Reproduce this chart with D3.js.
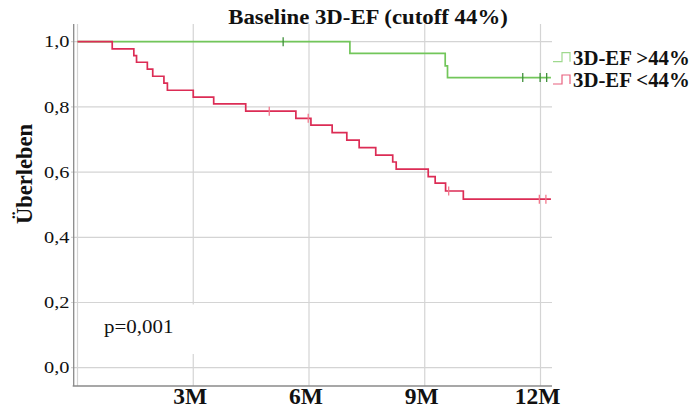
<!DOCTYPE html>
<html>
<head>
<meta charset="utf-8">
<script src="https://cdn.jsdelivr.net/npm/d3@7"></script>
<style>
  body { margin: 0; background: #fff; }
  text { font-family: "Liberation Serif", "Times New Roman", serif; fill: #111; }
</style>
</head>
<body>
<svg id="chart" width="694" height="410"></svg>
<script>
// survival curves: time in months, survival after each step
const highTimes  = [7.06, 9.53, 9.59];
const highSurv   = [0.964, 0.926, 0.890];
const highCensor = [5.33, 11.54, 11.99, 12.16];

const lowTimes  = [0.90, 1.46, 1.53, 1.81, 1.95, 2.24, 2.33, 3.00, 3.53, 4.36, 5.66,
                   6.05, 6.60, 6.98, 7.30, 7.73, 8.17, 8.26, 9.09, 9.27, 9.54, 10.00];
const lowSurv   = [0.978, 0.957, 0.937, 0.916, 0.894, 0.873, 0.851, 0.830, 0.809, 0.787, 0.765,
                   0.744, 0.721, 0.698, 0.675, 0.652, 0.631, 0.609, 0.586, 0.566, 0.542, 0.517];
const lowCensor = [4.97, 5.98, 9.62, 11.97, 12.14];

const endTime = 12.27;
const xTicks = [3, 6, 9, 12];
const xTickLabels = ["3M", "6M", "9M", "12M"];
const yTicks = [0, 0.2, 0.4, 0.6, 0.8, 1.0];
const yTickLabels = ["0,0", "0,2", "0,4", "0,6", "0,8", "1,0"];
const seriesNames = ["3D-EF >44%", "3D-EF <44%"];
const pValue = "p=0,001";

const svg = d3.select("#chart");
svg.append("rect").attr("width", 694).attr("height", 410).attr("fill", "#fff");

const x = d3.scaleLinear().domain([0, 12]).range([77.5, 540.5]);
const y = d3.scaleLinear().domain([0, 1]).range([367.7, 41.7]);

const plotTop = 24, plotBottom = 386, plotLeft = 73.7, plotRight = 552;
const gridColor = "#d4d4d4";

function label(txt, px, py, size, sx, anchor, weight) {
  return svg.append("text")
    .attr("transform", `translate(${px},${py}) scale(${sx},1)`)
    .attr("text-anchor", anchor)
    .style("font-size", size + "px")
    .style("font-weight", weight)
    .text(txt);
}

// grid
svg.selectAll(".hgrid").data(yTicks).enter().append("line")
  .attr("x1", 71).attr("x2", plotRight)
  .attr("y1", d => y(d)).attr("y2", d => y(d))
  .attr("stroke", gridColor).attr("stroke-width", 1.2);
svg.selectAll(".vgrid").data([0].concat(xTicks)).enter().append("line")
  .attr("x1", d => x(d)).attr("x2", d => x(d))
  .attr("y1", plotTop).attr("y2", plotBottom)
  .attr("stroke", gridColor).attr("stroke-width", 1.2);

// white box behind p value
svg.append("rect").attr("x", 90).attr("y", 304.5).attr("width", 112).attr("height", 49.5).attr("fill", "#fff");

// axes
svg.append("line").attr("x1", plotLeft).attr("x2", plotLeft).attr("y1", plotTop).attr("y2", plotBottom)
  .attr("stroke", "#8a8a8a").attr("stroke-width", 1.3);
svg.append("line").attr("x1", plotLeft - 1).attr("x2", plotRight).attr("y1", plotBottom).attr("y2", plotBottom)
  .attr("stroke", "#8a8a8a").attr("stroke-width", 1.3);

// curves
const line = d3.line().x(d => x(d[0])).y(d => y(d[1])).curve(d3.curveStepAfter);
function steps(times, surv) {
  const pts = [[0, 1]];
  times.forEach((t, i) => pts.push([t, surv[i]]));
  pts.push([endTime, surv[surv.length - 1]]);
  return pts;
}
function survAt(times, surv, t) {
  let s = 1;
  times.forEach((tt, i) => { if (tt <= t) s = surv[i]; });
  return s;
}

const series = [
  {times: highTimes, surv: highSurv, censor: highCensor, color: "#72c65a", mark: "#3f8f3a", legend: "#9fd98e"},
  {times: lowTimes, surv: lowSurv, censor: lowCensor, color: "#dc2c55", mark: "#f2788c", legend: "#e8607e"}
];

series.forEach(s => {
  svg.append("path").datum(steps(s.times, s.surv))
    .attr("d", line).attr("fill", "none")
    .attr("stroke", s.color).attr("stroke-width", 1.7);
  svg.selectAll(null).data(s.censor).enter().append("line")
    .attr("x1", d => x(d)).attr("x2", d => x(d))
    .attr("y1", d => y(survAt(s.times, s.surv, d)) - 4.5)
    .attr("y2", d => y(survAt(s.times, s.surv, d)) + 4.5)
    .attr("stroke", s.mark).attr("stroke-width", 1.3);
});

// legend
series.forEach((s, i) => {
  const top = 52.7 + i * 22.3;
  svg.append("path")
    .attr("d", `M553,${top + 9}H562V${top}H570V${top + 9}`)
    .attr("fill", "none").attr("stroke", s.legend).attr("stroke-width", 1.2);
  label(seriesNames[i], 573, 65 + i * 22.3, 20, 1.04, "start", "bold");
});

// tick labels
yTicks.forEach((t, i) => label(yTickLabels[i], 69.5, y(t) + 5.6, 17, 1.2, "end", "normal"));
xTicks.forEach((t, i) => label(xTickLabels[i], x(t) - 3, 403.5, 23.5, 1, "middle", "bold"));

// titles
label("Baseline 3D-EF (cutoff 44%)", 368, 23.5, 20, 1.14, "middle", "bold");
svg.append("text")
  .attr("transform", "translate(31.5,174) rotate(-90)")
  .attr("text-anchor", "middle")
  .style("font-size", "22.5px").style("font-weight", "bold")
  .text("Überleben");

label(pValue, 104, 333, 18.7, 1.12, "start", "normal");
</script>
</body>
</html>
